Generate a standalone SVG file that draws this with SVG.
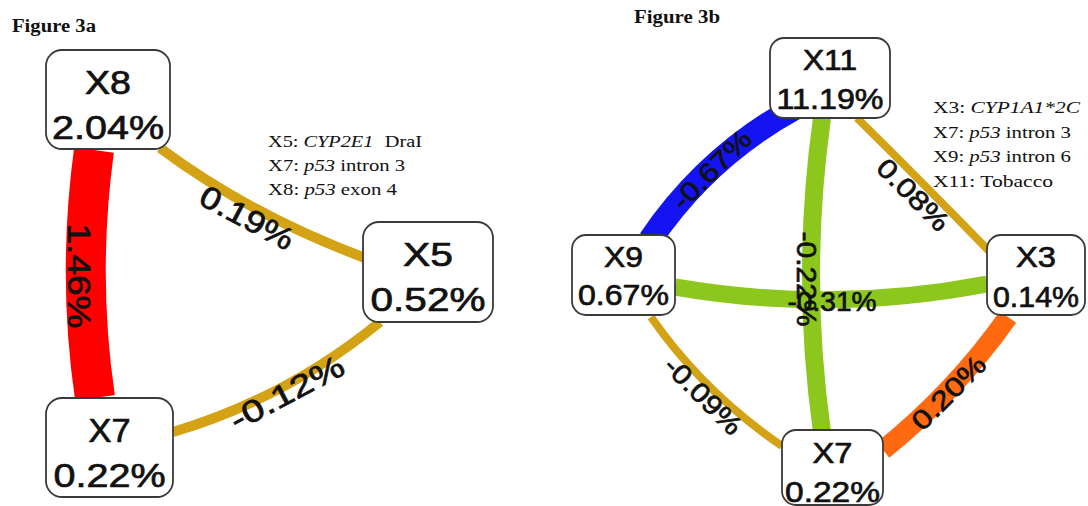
<svg xmlns="http://www.w3.org/2000/svg" width="1088" height="506" viewBox="0 0 1088 506">
<style>
.bg{fill:#ffffff}
.edge{fill:none;stroke-linecap:butt}
.gold{stroke:#D4A215}
.red{stroke:#FF0000}
.blue{stroke:#1414F2}
.green{stroke:#8DC71E}
.orange{stroke:#FF6A10}
.box{fill:#ffffff;stroke:#3a3a3a;stroke-width:1.8}
.nt{font-family:"Liberation Sans",Arial,sans-serif;fill:#111;stroke:#111;stroke-width:0.7;text-anchor:middle}
.n1{font-size:34px}
.n2{font-size:30px}
.el{font-family:"Liberation Sans",Arial,sans-serif;fill:#111;stroke:#111;stroke-width:0.7;text-anchor:middle;dominant-baseline:central;font-size:31px}
.el2{font-size:27px}
.leg{font-family:"Liberation Serif","Times New Roman",serif;fill:#111}
.title{font-family:"Liberation Serif","Times New Roman",serif;font-weight:bold;font-size:18px;fill:#111}
</style>
<rect class="bg" x="0" y="0" width="1088" height="506"/>
<text class="title" x="12" y="32" textLength="84" lengthAdjust="spacingAndGlyphs">Figure 3a</text>
<text class="title" x="634" y="23" textLength="86" lengthAdjust="spacingAndGlyphs">Figure 3b</text>
<g id="connectors">
  <path class="edge red" stroke-width="40" d="M94,150 Q77,275 95,398"/>
  <path class="edge gold" stroke-width="10" d="M160,148 Q250,215 365,258"/>
  <path class="edge gold" stroke-width="10" d="M380,322 Q287,398 173,432"/>
  <path class="edge blue" stroke-width="24" d="M650,240 Q707,156 795,108"/>
  <path class="edge gold" stroke-width="8" d="M857,118 Q920,180 990,252"/>
  <path class="edge green" stroke-width="18" d="M822,118 Q800,275 822,432"/>
  <path class="edge green" stroke-width="17" d="M675,287 Q831,314 987,284"/>
  <path class="edge gold" stroke-width="8" d="M651,317 Q703,392 782,446"/>
  <path class="edge orange" stroke-width="20" d="M1008,317 Q955,392 883,450"/>
  <text class="el" transform="translate(78,276) rotate(90)" textLength="105" lengthAdjust="spacingAndGlyphs">1.46%</text>
  <text class="el" transform="translate(247,218) rotate(28)" textLength="102" lengthAdjust="spacingAndGlyphs">0.19%</text>
  <text class="el" transform="translate(287,393) rotate(-28)" textLength="125" lengthAdjust="spacingAndGlyphs">-0.12%</text>
  <text class="el el2" transform="translate(712,170) rotate(-45)" textLength="100" lengthAdjust="spacingAndGlyphs">-0.67%</text>
  <text class="el el2" transform="translate(913,195) rotate(45)" textLength="90" lengthAdjust="spacingAndGlyphs">0.08%</text>
  <text class="el el2" transform="translate(806,279) rotate(90)" textLength="95" lengthAdjust="spacingAndGlyphs">-0.22%</text>
  <text class="el el2" transform="translate(832,302)" textLength="89" lengthAdjust="spacingAndGlyphs">-0.31%</text>
  <text class="el el2" transform="translate(703,396) rotate(45)" textLength="98" lengthAdjust="spacingAndGlyphs">-0.09%</text>
  <text class="el el2" transform="translate(949,393) rotate(-45)" textLength="93" lengthAdjust="spacingAndGlyphs">0.20%</text>
</g>
<g id="node-a-X8">
  <rect class="box" x="46" y="50" width="124" height="99" rx="16"/>
  <text class="nt n1" x="108" y="94" textLength="46" lengthAdjust="spacingAndGlyphs">X8</text>
  <text class="nt n1" x="108" y="139" textLength="112" lengthAdjust="spacingAndGlyphs">2.04%</text>
</g>
<g id="node-a-X5">
  <rect class="box" x="363" y="222" width="130" height="100" rx="16"/>
  <text class="nt n1" x="428" y="266" textLength="50" lengthAdjust="spacingAndGlyphs">X5</text>
  <text class="nt n1" x="428" y="311" textLength="115" lengthAdjust="spacingAndGlyphs">0.52%</text>
</g>
<g id="node-a-X7">
  <rect class="box" x="46" y="398" width="127" height="99" rx="16"/>
  <text class="nt n1" x="109.5" y="442" textLength="42" lengthAdjust="spacingAndGlyphs">X7</text>
  <text class="nt n1" x="109.5" y="487" textLength="112" lengthAdjust="spacingAndGlyphs">0.22%</text>
</g>
<g id="legend-a">
  <text class="leg" x="268" y="147" font-size="16" textLength="154" lengthAdjust="spacingAndGlyphs">X5: <tspan font-style="italic">CYP2E1</tspan><tspan dx="5"> DraI</tspan></text>
  <text class="leg" x="268" y="171" font-size="16" textLength="137" lengthAdjust="spacingAndGlyphs">X7: <tspan font-style="italic">p53</tspan> intron 3</text>
  <text class="leg" x="268" y="195" font-size="16" textLength="129" lengthAdjust="spacingAndGlyphs">X8: <tspan font-style="italic">p53</tspan> exon 4</text>
</g>
<g id="node-b-X11">
  <rect class="box" x="770" y="38" width="120" height="80" rx="14"/>
  <text class="nt n2" x="830" y="70" textLength="54" lengthAdjust="spacingAndGlyphs">X11</text>
  <text class="nt n2" x="830" y="109" textLength="107" lengthAdjust="spacingAndGlyphs">11.19%</text>
</g>
<g id="node-b-X9">
  <rect class="box" x="572" y="235" width="103" height="80" rx="14"/>
  <text class="nt n2" x="623.5" y="267" textLength="39" lengthAdjust="spacingAndGlyphs">X9</text>
  <text class="nt n2" x="623.5" y="305" textLength="91" lengthAdjust="spacingAndGlyphs">0.67%</text>
</g>
<g id="node-b-X3">
  <rect class="box" x="987" y="235" width="98" height="80" rx="14"/>
  <text class="nt n2" x="1036" y="267" textLength="40" lengthAdjust="spacingAndGlyphs">X3</text>
  <text class="nt n2" x="1036" y="307" textLength="86" lengthAdjust="spacingAndGlyphs">0.14%</text>
</g>
<g id="node-b-X7">
  <rect class="box" x="782" y="430" width="101" height="75" rx="14"/>
  <text class="nt n2" x="832.5" y="463" textLength="40" lengthAdjust="spacingAndGlyphs">X7</text>
  <text class="nt n2" x="832.5" y="502" textLength="95" lengthAdjust="spacingAndGlyphs">0.22%</text>
</g>
<g id="legend-b">
  <text class="leg" x="933" y="113" font-size="17" textLength="147" lengthAdjust="spacingAndGlyphs">X3: <tspan font-style="italic">CYP1A1*2C</tspan></text>
  <text class="leg" x="933" y="138" font-size="17" textLength="138" lengthAdjust="spacingAndGlyphs">X7: <tspan font-style="italic">p53</tspan> intron 3</text>
  <text class="leg" x="933" y="162" font-size="17" textLength="138" lengthAdjust="spacingAndGlyphs">X9: <tspan font-style="italic">p53</tspan> intron 6</text>
  <text class="leg" x="933" y="187" font-size="17" textLength="120" lengthAdjust="spacingAndGlyphs">X11: Tobacco</text>
</g>
</svg>
